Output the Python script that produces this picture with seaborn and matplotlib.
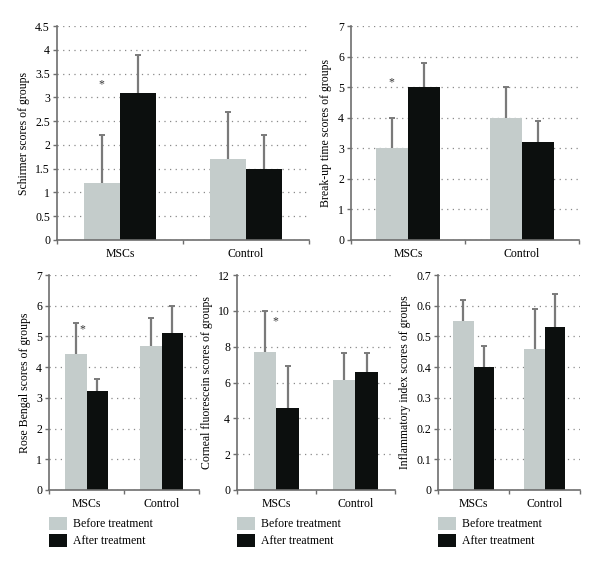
import matplotlib
matplotlib.use('Agg')
import matplotlib.pyplot as plt
import matplotlib.ticker as mticker
from matplotlib.patches import Patch
import pandas as pd
import seaborn as sns
import numpy as np


# data
groups = ['MSCs', 'Control']
treatments = ['Before treatment', 'After treatment']

schirmer_before = [1.2, 1.7]
schirmer_after = [3.1, 1.5]
schirmer_before_sd = [1.0, 1.0]
schirmer_after_sd = [0.8, 0.7]

breakup_before = [3.0, 4.0]
breakup_after = [5.0, 3.2]
breakup_before_sd = [1.0, 1.0]
breakup_after_sd = [0.8, 0.7]

rose_before = [4.43, 4.69]
rose_after = [3.21, 5.1]
rose_before_sd = [1.02, 0.91]
rose_after_sd = [0.42, 0.9]

corneal_before = [7.7, 6.13]
corneal_after = [4.55, 6.57]
corneal_before_sd = [2.3, 1.53]
corneal_after_sd = [2.4, 1.1]

inflam_before = [0.55, 0.46]
inflam_after = [0.40, 0.53]
inflam_before_sd = [0.07, 0.13]
inflam_after_sd = [0.07, 0.11]

before_color = '#c3cdcc'
after_color = '#0b0f0e'
err_color = '#7a7a7a'
axis_color = '#6e6e6e'

plt.rcParams['font.family'] = ['Liberation Serif', 'DejaVu Serif']

fig = plt.figure(figsize=(6, 5.7), dpi=100)


def panel(rect, before, after, before_sd, after_sd, ymax, ystep, ylabel,
          star=None, legend=False):
    ax = fig.add_axes(rect)
    df = pd.DataFrame({
        'group': groups * 2,
        'treatment': [treatments[0]] * 2 + [treatments[1]] * 2,
        'score': before + after,
    })
    sns.barplot(data=df, x='group', y='score', hue='treatment', order=groups,
                hue_order=treatments, palette=[before_color, after_color],
                width=0.57, errorbar=None, legend=False, ax=ax)
    # upward-only error bars from the bar tops, small cap on top only
    for cont, sd in zip(ax.containers, [before_sd, after_sd]):
        for p in cont.patches:
            p.set_zorder(3)
        xs = np.array([p.get_x() + p.get_width() / 2 for p in cont.patches])
        hs = np.array([p.get_height() for p in cont.patches])
        tops = hs + np.array(sd)
        ax.vlines(xs, hs, tops, color=err_color, lw=1.6, zorder=2)
        ax.plot(xs, tops, ls='none', marker='_', ms=4, mew=1.4,
                color=err_color, zorder=2)
    ax.set_xlim(-0.5, 1.5)
    ax.set_ylim(0, ymax)
    ax.yaxis.set_major_locator(mticker.MultipleLocator(ystep))
    ax.yaxis.set_major_formatter(mticker.FuncFormatter(lambda v, p: f'{v:g}'))
    for t in ax.get_yticks()[1:]:
        if t <= ymax + 1e-9:
            ax.axhline(t, color='#8a8a8a', lw=0.9, ls=(0, (1, 3.5)), zorder=0)
    ax.set_xlabel('')
    ax.set_ylabel(ylabel, fontsize=8.5, labelpad=4)
    ax.xaxis.set_minor_locator(mticker.FixedLocator([-0.5, 0.5, 1.5]))
    ax.tick_params(axis='x', which='major', length=0, labelsize=8.5, pad=6)
    ax.tick_params(axis='x', which='minor', length=3, color=axis_color, width=1)
    ax.tick_params(axis='y', length=3, color=axis_color, width=1, labelsize=8.5, pad=2)
    for s in ['top', 'right']:
        ax.spines[s].set_visible(False)
    for s in ['left', 'bottom']:
        ax.spines[s].set_color(axis_color)
        ax.spines[s].set_linewidth(1.2)
        ax.spines[s].set_zorder(4)
    ax.set_facecolor('white')
    if star is not None:
        ax.text(star[0], star[1], '*', ha='center', va='center', fontsize=8.5,
                color='#333333')
    if legend:
        handles = [Patch(facecolor=before_color), Patch(facecolor=after_color)]
        ax.legend(handles, treatments, loc='upper left', bbox_to_anchor=(0, -0.125),
                  frameon=False, borderpad=0, borderaxespad=0, handlelength=1.55,
                  handleheight=1.3, labelspacing=0.3, handletextpad=0.45,
                  fontsize=8.5)
    return ax


panel([0.095, 0.579, 0.42, 0.375], schirmer_before, schirmer_after,
      schirmer_before_sd, schirmer_after_sd, 4.5, 0.5,
      'Schirmer scores of groups', star=(-0.145, 3.28))
panel([0.585, 0.579, 0.38, 0.375], breakup_before, breakup_after,
      breakup_before_sd, breakup_after_sd, 7, 1,
      'Break-up time scores of groups', star=(-0.145, 5.17))
panel([0.0817, 0.1404, 0.25, 0.377], rose_before, rose_after,
      rose_before_sd, rose_after_sd, 7, 1,
      'Rose Bengal scores of groups', star=(-0.05, 5.23), legend=True)
panel([0.395, 0.1404, 0.263, 0.377], corneal_before, corneal_after,
      corneal_before_sd, corneal_after_sd, 12, 2,
      'Corneal fluorescein scores of groups', star=(-0.01, 9.43), legend=True)
panel([0.73, 0.1404, 0.237, 0.377], inflam_before, inflam_after,
      inflam_before_sd, inflam_after_sd, 0.7, 0.1,
      'Inflammatory index scores of groups', legend=True)

fig.savefig('out.png', dpi=100)
